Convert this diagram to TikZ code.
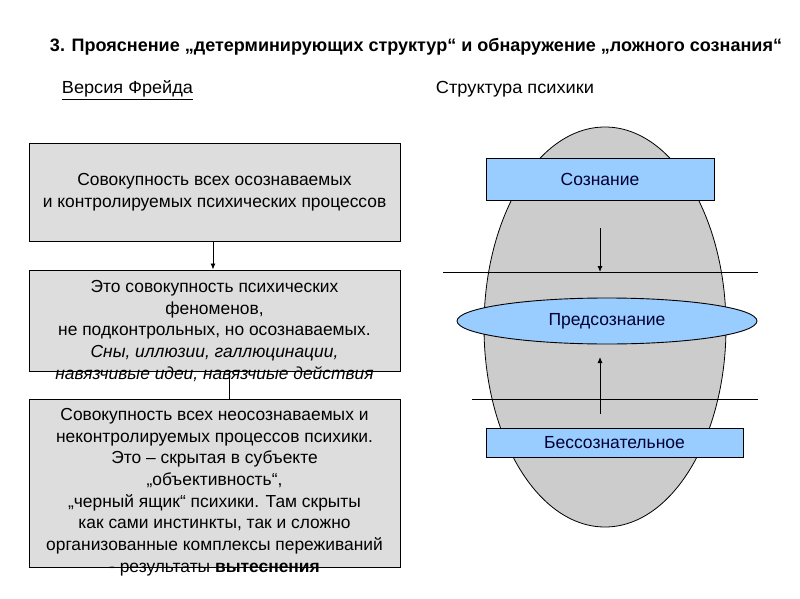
\documentclass[tikz,border=0pt]{standalone}
\usepackage{fontspec}
\setmainfont{Liberation Sans}
\usepackage{graphicx}
\usetikzlibrary{arrows.meta,positioning,shapes.geometric}
\definecolor{BoxGray}{RGB}{221,221,221}
\definecolor{EggGray}{RGB}{204,204,204}
\definecolor{LayerBlue}{RGB}{153,204,255}
\definecolor{LayerInk}{RGB}{0,0,51}
\tikzset{
  greybox/.style={draw=black, fill=BoxGray, line width=1pt, minimum width=371pt, inner sep=0pt},
  boxtext/.style={align=center, font=\fontsize{17.4}{21.7}\selectfont},
  layerbox/.style={draw=black, fill=LayerBlue, line width=0.9pt, inner sep=0pt,
    font=\fontsize{17.5}{20}\selectfont, text=LayerInk},
  heading/.style={anchor=base, inner sep=0pt},
  arrow/.style={-{Latex[length=6pt,width=5pt]}, draw=black, line width=0.9pt},
  sepline/.style={draw=black, line width=0.9pt}
}

\begin{document}
\begin{tikzpicture}[x=1pt, y=-1pt]
  \useasboundingbox (0,0) rectangle (800,599);

  % headings
  \node[heading] (title) at (416,52) {\resizebox{732pt}{\height}{\fontsize{18}{20}\selectfont\bfseries
    3. Прояснение „детерминирующих структур“ и обнаружение „ложного сознания“}};
  \node[heading] (freud) at (127.5,94) {\resizebox{131pt}{\height}{\fontsize{17.5}{20}\selectfont\underline{Версия Фрейда}}};
  \node[heading] (struct) at (515,94) {\resizebox{158pt}{\height}{\fontsize{17.5}{20}\selectfont Структура психики}};

  % left column
  \node[greybox, minimum height=98pt] (consc) at (214.5,192) {};
  \node[boxtext] (conscText) at (consc.center) {Совокупность всех осознаваемых\\
    и контролируемых психических процессов};
  \node[greybox, minimum height=101pt] (precon) at (214.5,320.5) {};
  \node[boxtext] (preconText) at (214.5,331) {Это совокупность психических\\
    феноменов,\\
    не подконтрольных, но осознаваемых.\\
    \itshape Сны, иллюзии, галлюцинации,\\
    \itshape навязчивые идеи, навязчиые действия};
  \node[greybox, minimum height=168pt] (uncon) at (214.5,483) {};
  \node[boxtext] (unconText) at (214.5,492) {Совокупность всех неосознаваемых и\\
    неконтролируемых процессов психики.\\
    Это – скрытая в субъекте\\
    „объективность“,\\
    „черный ящик“ психики. Там скрыты\\
    как сами инстинкты, так и сложно\\
    организованные комплексы переживаний\\
    - результаты \textbf{вытеснения}};

  \draw[arrow] (consc.south -| 213,0) -- (precon.north -| 213,0);
  \draw[line width=0.9pt] (precon.south -| 229,0) -- (uncon.north -| 229,0);

  % right column
  \node[ellipse, draw=black, fill=EggGray, line width=0.8pt, minimum width=242pt,
    minimum height=400pt, inner sep=0pt] (psyche) at (605,327) {};

  \coordinate (lineAL) at (443,272);
  \coordinate (lineAR) at (758,272);
  \coordinate (lineBL) at (472,399);
  \coordinate (lineBR) at (758,399);
  \draw[sepline] (lineAL) -- (lineAR);
  \draw[sepline] (lineBL) -- (lineBR);

  \node[layerbox, minimum width=228pt, minimum height=42pt] (soznanie) at (600,179) {Сознание};
  \node[layerbox, ellipse, minimum width=300pt, minimum height=46pt] (predsozn) at (607,321) {Предсознание};
  \node[layerbox, minimum width=257pt, minimum height=29pt] (bessozn) at (614.5,442.5) {Бессознательное};

  \coordinate (downStart) at (600,228);
  \coordinate (upStart) at (600,414);
  \draw[arrow] (downStart) -- (downStart |- lineAL);
  \draw[arrow] (upStart) -- (600,357);
\end{tikzpicture}
\end{document}
